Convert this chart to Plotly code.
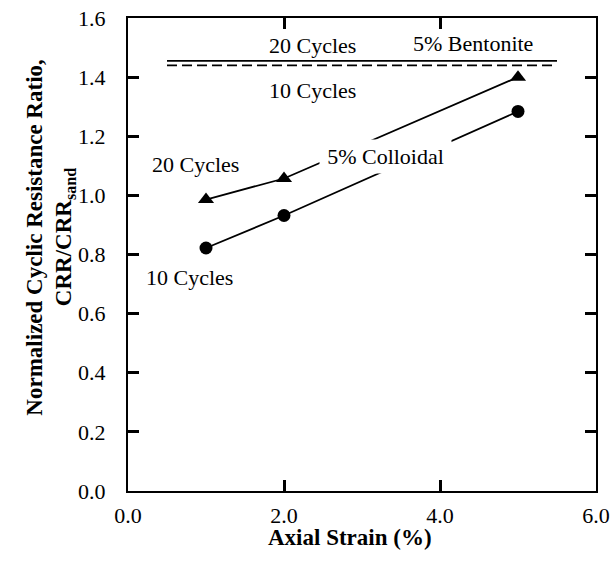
import plotly.graph_objects as go

# Data
strain = [1.0, 2.0, 5.0]
colloidal_20 = [0.986, 1.057, 1.40]
colloidal_10 = [0.822, 0.932, 1.284]
bent_x = [0.5, 5.5]
bentonite_20 = [1.455, 1.455]
bentonite_10 = [1.440, 1.440]

x_ticks = [0.0, 2.0, 4.0, 6.0]
y_ticks = [0.0, 0.2, 0.4, 0.6, 0.8, 1.0, 1.2, 1.4, 1.6]

FONT = "Liberation Serif, Times New Roman, serif"
FS = 22
FT = 23

fig = go.Figure()
fig.add_trace(go.Scatter(x=bent_x, y=bentonite_20, mode="lines",
                         line=dict(color="black", width=1.8), showlegend=False))
fig.add_trace(go.Scatter(x=bent_x, y=bentonite_10, mode="lines",
                         line=dict(color="black", width=1.8, dash="10px,5px"), showlegend=False))
fig.add_trace(go.Scatter(x=strain, y=colloidal_20, mode="lines+markers",
                         line=dict(color="black", width=1.8),
                         marker=dict(symbol="triangle-up", size=14, color="black"),
                         showlegend=False))
fig.add_trace(go.Scatter(x=strain, y=colloidal_10, mode="lines+markers",
                         line=dict(color="black", width=1.8),
                         marker=dict(symbol="circle", size=13, color="black"),
                         showlegend=False))

def txt(x, y, s, **kw):
    d = dict(x=x, y=y, xref="x", yref="y", text=s, showarrow=False,
             font=dict(family=FONT, size=FS, color="black"))
    d.update(kw)
    fig.add_annotation(**d)

txt(2.37, 1.507, "20 Cycles")
txt(4.42, 1.513, "5% Bentonite")
txt(2.37, 1.355, "10 Cycles")
txt(0.86, 1.105, "20 Cycles")
txt(0.79, 0.723, "10 Cycles")
txt(3.30, 1.13, "5% Colloidal", bgcolor="white", width=131, height=33, borderpad=0)

# axis titles
fig.add_annotation(x=-0.231, y=0.5365, xref="paper", yref="paper",
                   text="<b>Normalized Cyclic Resistance Ratio,</b>", textangle=-90,
                   showarrow=False, font=dict(family=FONT, size=FT, color="black"))
fig.add_annotation(x=-0.169, y=0.5365, xref="paper", yref="paper",
                   text="<b>CRR/CRR<sub>sand</sub></b>", textangle=-90,
                   showarrow=False, font=dict(family=FONT, size=FT, color="black"))
fig.add_annotation(x=0.474, y=-0.129, xref="paper", yref="paper",
                   text="<b>Axial Strain (%)</b>",
                   showarrow=False, font=dict(family=FONT, size=FT, color="black"))

axis_common = dict(showgrid=False, zeroline=False, showline=True, linecolor="black",
                   linewidth=2, mirror="ticks", ticks="inside", ticklen=11,
                   tickwidth=3, tickcolor="black", automargin=False,
                   ticklabeloverflow="allow",
                   tickfont=dict(family=FONT, size=FS, color="black"))

fig.update_xaxes(range=[0, 6], tickvals=x_ticks,
                 ticktext=[f"{v:.1f}" for v in x_ticks], ticklabelstandoff=4,
                 **axis_common)
fig.update_yaxes(range=[0, 1.6], tickvals=y_ticks,
                 ticktext=[f"{v:.1f}" for v in y_ticks], ticklabelstandoff=16,
                 **axis_common)

fig.update_layout(width=611, height=563, plot_bgcolor="white", paper_bgcolor="white",
                  margin=dict(l=128, r=15, t=18, b=72),
                  font=dict(family=FONT, size=FS, color="black"))

fig.write_html("out.html", config={"displayModeBar": False},
               post_script="document.body.style.margin='0';document.body.style.overflow='hidden';")
